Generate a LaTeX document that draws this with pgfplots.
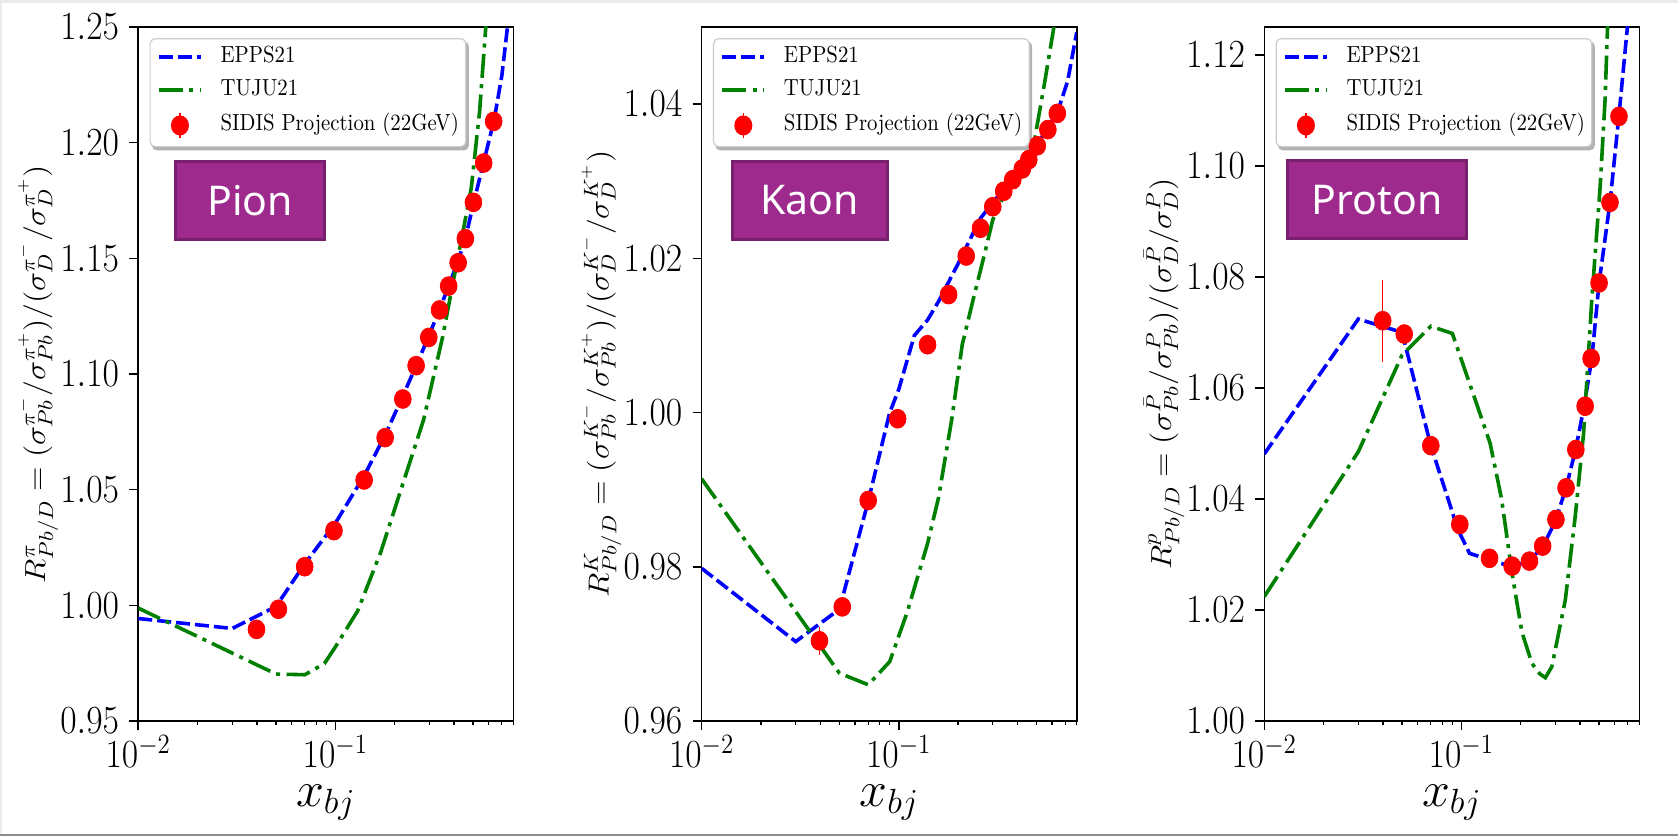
\RequirePackage{fix-cm}
\documentclass[border=0pt]{standalone}
\usepackage{fontspec}
\usepackage{graphicx}
\usepackage{pgfplots}
\usepackage{pgfplotstable}
\pgfplotsset{compat=1.18}
\newfontfamily\tagfont{Noto Sans}

\pgfdeclarelayer{paper}
\pgfdeclarelayer{shade}
\pgfsetlayers{paper,shade,main}

\definecolor{eppsblue}{RGB}{0,0,255}
\definecolor{tujugreen}{RGB}{0,128,0}
\definecolor{sidisred}{RGB}{255,0,0}
\definecolor{tagfill}{RGB}{158,42,142}
\definecolor{tagedge}{RGB}{120,31,110}

% text in this figure is set slightly tall
\newcommand{\tall}[1]{\scalebox{1}[1.12]{#1}}

% SIDIS projections (22 GeV): x_bj, double ratio, uncertainty
\pgfplotstableread{
x      y       ey
0.0398 0.9896  0.0020
0.0514 0.9983  0.0015
0.0699 1.0167  0.0012
0.0984 1.0323  0.0010
0.140  1.0542  0.0010
0.179  1.0725  0.0010
0.220  1.0892  0.0010
0.257  1.1036  0.0010
0.298  1.1158  0.0010
0.338  1.1277  0.0010
0.376  1.1380  0.0010
0.420  1.1481  0.0010
0.457  1.1585  0.0010
0.502  1.1742  0.0010
0.566  1.1912  0.0010
0.636  1.2092  0.0012
}\pionpts

\pgfplotstableread{
x      y       ey
0.0396 0.9704  0.0018
0.0517 0.9748  0.0008
0.0700 0.9886  0.0006
0.0987 0.9992  0.0005
0.140  1.0088  0.0004
0.179  1.0153  0.0004
0.220  1.0203  0.0004
0.260  1.0239  0.0004
0.300  1.0267  0.0004
0.341  1.0287  0.0004
0.379  1.0302  0.0004
0.4236 1.0316  0.0004
0.457  1.0328  0.0004
0.505  1.0346  0.0004
0.571  1.0367  0.0004
0.638  1.0388  0.0005
}\kaonpts

\pgfplotstableread{
x      y       ey
0.0399 1.0721  0.0074
0.0513 1.0697  0.0015
0.0700 1.0496  0.0010
0.0982 1.0354  0.0008
0.139  1.0293  0.0006
0.181  1.0279  0.0006
0.2216 1.0288  0.0006
0.2586 1.0315  0.0006
0.302  1.0363  0.0006
0.340  1.0420  0.0006
0.381  1.0489  0.0006
0.425  1.0567  0.0006
0.4556 1.0653  0.0007
0.500  1.0789  0.0008
0.568  1.0934  0.0009
0.631  1.1089  0.0010
}\protonpts

\tikzset{
  epps/.style={color=eppsblue, line width=1.8pt, dash pattern=on 7pt off 2.5pt},
  tuju/.style={color=tujugreen, line width=1.8pt,
               dash pattern=on 12pt off 3.2pt on 2pt off 3.2pt},
  tag/.style={fill=tagfill, draw=tagedge, line width=1.5pt, text=white,
              font=\tagfont\fontsize{20.5}{24}\selectfont, inner sep=0pt,
              minimum height=39pt},
}

\pgfplotsset{
  every axis/.append style={
    xmode=log, scale only axis, width=187.5pt, height=347pt,
    xmin=0.01, xmax=0.8,
    xtick={0.01,0.1},
    minor xtick={0.02,0.03,0.04,0.05,0.06,0.07,0.08,0.09,0.2,0.3,0.4,0.5,0.6,0.7,0.8},
    tick align=outside, tick pos=left,
    major tick length=4.5pt, minor tick length=1.8pt,
    scaled y ticks=false,
    tick label style={font=\fontsize{17.8}{21}\selectfont},
    yticklabel={\tall{$\pgfmathprintnumber{\tick}$}},
    xticklabel={\tall{\axisdefaultticklabellog}},
    yticklabel style={/pgf/number format/fixed, /pgf/number format/fixed zerofill,
                      /pgf/number format/precision=2, inner xsep=5pt},
    xticklabel style={inner ysep=2.5pt},
    xlabel={$x_{bj}$},
    legend cell align=left,
  },
  every axis x label/.style={at={(axis description cs:0.5,0)}, anchor=base,
                             yshift=-42.5pt, inner sep=0pt,
                             font=\fontsize{25}{29}\selectfont},
  every axis y label/.style={at={(axis description cs:-0.267,0.5)}, rotate=90,
                             anchor=center, font=\fontsize{14.5}{17}\selectfont},
  every axis legend/.style={at={(axis description cs:0.03,0.984)}, anchor=north west,
                  draw=black!20, line width=0.6pt, fill=white, rounded corners=2.5pt,
                  font=\fontsize{10.4}{12}\selectfont,
                  inner xsep=3.5pt, inner ysep=4pt, row sep=6pt, column sep=8.9pt,
                  nodes={inner sep=0pt, text height=7.8pt, text depth=2.6pt}},
  every major tick/.append style={black, line width=0.8pt},
  every minor tick/.append style={black, line width=0.6pt},
  every outer x axis line/.append style={line width=0.8pt},
  every outer y axis line/.append style={line width=0.8pt},
  legend image code/.code={\draw[#1] (0pt,0pt) -- (21pt,0pt);},
}

\begin{document}
\begin{tikzpicture}
\useasboundingbox (0,0) rectangle (839pt,418pt);
\begin{pgfonlayer}{paper}
\fill[black!8] (0,0) rectangle (839pt,418pt);
\fill[white] (1.2pt,0.8pt) rectangle (839pt,416.5pt);
\draw[black!45, line width=0.8pt] (0,0.4pt) -- (839pt,0.4pt);
\end{pgfonlayer}

% ---------------- pions ----------------
\begin{axis}[at={(69.15pt,57.5pt)}, anchor=south west,
  legend style={name=legpion},
  ymin=0.95, ymax=1.25, ytick={0.95,1.00,1.05,1.10,1.15,1.20,1.25},
  ylabel={\scalebox{1.11}[1]{$R^{\pi}_{Pb/D} = (\sigma^{\pi^-}_{Pb}/\sigma^{\pi^+}_{Pb})/(\sigma^{\pi^-}_{D}/\sigma^{\pi^+}_{D})$}}]
\addplot[epps, mark=none] coordinates {
  (0.01,0.9943) (0.03,0.9900) (0.05,0.9995) (0.07,1.0180) (0.10,1.0355)
  (0.14,1.0560) (0.18,1.0740) (0.22,1.0905) (0.26,1.1045) (0.30,1.1170)
  (0.34,1.1285) (0.38,1.1390) (0.42,1.1490) (0.46,1.1595) (0.50,1.1730)
  (0.56,1.1900) (0.64,1.2100) (0.70,1.2290) (0.75,1.2510) (0.80,1.2750)};
\addlegendentry{\tall{EPPS21}}
\addplot[tuju, mark=none] coordinates {
  (0.01,0.9988) (0.05,0.9703) (0.07,0.9700) (0.088,0.9748) (0.10,0.9820)
  (0.13,0.9977) (0.17,1.0230) (0.22,1.0525) (0.28,1.0800) (0.35,1.1158)
  (0.40,1.1417) (0.45,1.1640) (0.49,1.1806) (0.54,1.2138) (0.58,1.2500)
  (0.62,1.2900)};
\addlegendentry{\tall{TUJU21}}
\addplot[only marks, mark=*, mark size=4.2pt, color=sidisred,
  mark options={solid, fill=sidisred, draw=sidisred, yscale=1.12},
  legend image code/.code={
    \draw[sidisred, line width=0.75pt] (10.5pt,-6.2pt) -- (10.5pt,6.2pt);
    \fill[sidisred] (10.5pt,0pt) ellipse (4.2pt and 4.7pt);},
  error bars/.cd, y dir=both, y explicit, error mark=none,
  error bar style={line width=0.75pt, color=sidisred, solid}]
  table[x=x, y=y, y error=ey] {\pionpts};
\addlegendentry{\tall{SIDIS Projection (22GeV)}}
\node[tag, minimum width=74.5pt] at (axis description cs:0.298,0.75) {Pion};
\end{axis}

% ---------------- kaons ----------------
\begin{axis}[at={(350.85pt,57.5pt)}, anchor=south west,
  legend style={name=legkaon},
  ymin=0.96, ymax=1.05, ytick={0.96,0.98,1.00,1.02,1.04},
  ylabel={\scalebox{1.11}[1]{$R^{K}_{Pb/D} = (\sigma^{K^-}_{Pb}/\sigma^{K^+}_{Pb})/(\sigma^{K^-}_{D}/\sigma^{K^+}_{D})$}}]
\addplot[epps, mark=none] coordinates {
  (0.01,0.9798) (0.03,0.9703) (0.05,0.9745) (0.07,0.9885) (0.09,1.0000)
  (0.10,1.0030) (0.12,1.0100) (0.14,1.0120) (0.16,1.0145) (0.20,1.0193)
  (0.26,1.0252) (0.30,1.0272) (0.34,1.0290) (0.38,1.0305) (0.42,1.0318)
  (0.46,1.0330) (0.50,1.0347) (0.56,1.0366) (0.64,1.0390) (0.72,1.0430)
  (0.80,1.0493)};
\addlegendentry{\tall{EPPS21}}
\addplot[tuju, mark=none] coordinates {
  (0.01,0.9914) (0.05,0.9662) (0.07,0.9647) (0.09,0.9677) (0.11,0.9740)
  (0.14,0.9830) (0.159,0.9889) (0.186,0.9992) (0.21,1.0088) (0.242,1.0153)
  (0.271,1.0203) (0.30,1.0250) (0.34,1.0280) (0.38,1.0300) (0.42,1.0318)
  (0.46,1.0335) (0.49,1.0355) (0.545,1.0422) (0.613,1.0500) (0.65,1.0560)};
\addlegendentry{\tall{TUJU21}}
\addplot[only marks, mark=*, mark size=4.2pt, color=sidisred,
  mark options={solid, fill=sidisred, draw=sidisred, yscale=1.12},
  legend image code/.code={
    \draw[sidisred, line width=0.75pt] (10.5pt,-6.2pt) -- (10.5pt,6.2pt);
    \fill[sidisred] (10.5pt,0pt) ellipse (4.2pt and 4.7pt);},
  error bars/.cd, y dir=both, y explicit, error mark=none,
  error bar style={line width=0.75pt, color=sidisred, solid}]
  table[x=x, y=y, y error=ey] {\kaonpts};
\addlegendentry{\tall{SIDIS Projection (22GeV)}}
\node[tag, minimum width=77.5pt] at (axis description cs:0.288,0.75) {Kaon};
\end{axis}

% ---------------- protons ----------------
\begin{axis}[at={(632.15pt,57.5pt)}, anchor=south west,
  legend style={name=legproton},
  ymin=1.00, ymax=1.125, ytick={1.00,1.02,1.04,1.06,1.08,1.10,1.12},
  ylabel={\scalebox{1.11}[1]{$R^{p}_{Pb/D} = (\sigma^{\bar{P}}_{Pb}/\sigma^{P}_{Pb})/(\sigma^{\bar{P}}_{D}/\sigma^{P}_{D})$}}]
\addplot[epps, mark=none] coordinates {
  (0.01,1.0481) (0.03,1.0724) (0.05,1.0700) (0.07,1.0496) (0.09,1.0376)
  (0.0955,1.0347) (0.11,1.0302) (0.14,1.0290) (0.18,1.0278) (0.22,1.0287)
  (0.26,1.0315) (0.30,1.0360) (0.34,1.0420) (0.38,1.0489) (0.42,1.0567)
  (0.46,1.0655) (0.50,1.0789) (0.568,1.0934) (0.63,1.1089) (0.695,1.1247)
  (0.75,1.1380)};
\addlegendentry{\tall{EPPS21}}
\addplot[tuju, mark=none] coordinates {
  (0.01,1.0224) (0.03,1.0485) (0.05,1.0659) (0.07,1.0711) (0.09,1.0698)
  (0.118,1.0577) (0.14,1.0500) (0.16,1.0400) (0.181,1.0265) (0.203,1.0160)
  (0.228,1.0104) (0.25,1.0085) (0.267,1.0078) (0.288,1.0098) (0.337,1.0218)
  (0.378,1.0367) (0.417,1.0517) (0.459,1.0758) (0.506,1.0961) (0.536,1.1117)
  (0.552,1.1250) (0.57,1.1400)};
\addlegendentry{\tall{TUJU21}}
\addplot[only marks, mark=*, mark size=4.2pt, color=sidisred,
  mark options={solid, fill=sidisred, draw=sidisred, yscale=1.12},
  legend image code/.code={
    \draw[sidisred, line width=0.75pt] (10.5pt,-6.2pt) -- (10.5pt,6.2pt);
    \fill[sidisred] (10.5pt,0pt) ellipse (4.2pt and 4.7pt);},
  error bars/.cd, y dir=both, y explicit, error mark=none,
  error bar style={line width=0.75pt, color=sidisred, solid}]
  table[x=x, y=y, y error=ey] {\protonpts};
\addlegendentry{\tall{SIDIS Projection (22GeV)}}
\node[tag, minimum width=89.5pt] at (axis description cs:0.301,0.751) {Proton};
\end{axis}

% soft shadows under the three legend boxes
\begin{pgfonlayer}{shade}
\foreach \leg in {legpion,legkaon,legproton}
  \fill[black!30, rounded corners=2.5pt]
    ([shift={(1.2pt,-1.6pt)}]\leg.south west) rectangle
    ([shift={(1.2pt,-1.6pt)}]\leg.north east);
\end{pgfonlayer}
\end{tikzpicture}
\end{document}
